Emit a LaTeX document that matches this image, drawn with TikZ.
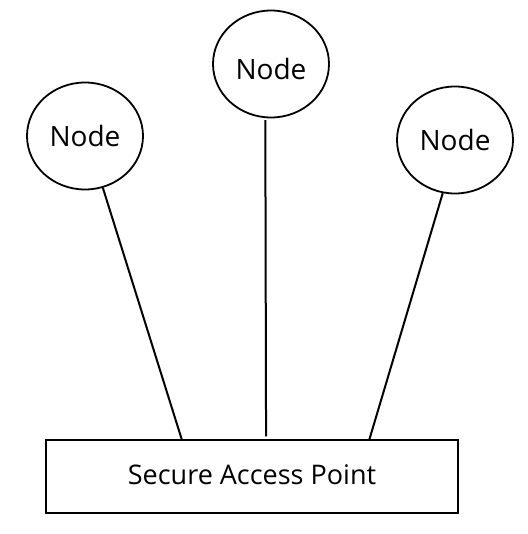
\documentclass[tikz,border=0pt]{standalone}
\usepackage{fontspec}
\setmainfont{Open Sans}
\usetikzlibrary{shapes.geometric,calc}
\begin{document}
\begin{tikzpicture}[x=1pt,y=-1pt,
  peer/.style={draw,ellipse,line width=1.8pt,minimum width=116pt,minimum height=107pt,inner sep=0pt,font=\fontsize{28}{32}\selectfont},
  gate/.style={draw,rectangle,line width=1.5pt,minimum width=412pt,minimum height=73pt,inner sep=0pt,font=\fontsize{27}{32}\selectfont},
  link/.style={line width=2pt}]
\useasboundingbox (0,0) rectangle (527,534);
\node[peer] (n1) at (85,136) {Node};
\node[peer] (n2) at (271,64) {\raisebox{-5pt}[\height][\depth]{Node}};
\node[peer] (n3) at (455,140) {Node};
\node[gate] (sap) at (252,476.5) {\raisebox{2pt}[\height][\depth]{Secure Access Point}};
\draw[link] (n1.-71.6) -- ($(sap.north west)!0.33!(sap.north east)$);
\draw[link] ($(n2.-96)+(0,2)$) -- ($(sap.north west)!0.534!(sap.north east)+(0,-3)$);
\draw[link] (n3.-103) -- ($(sap.north west)!0.784!(sap.north east)$);
\end{tikzpicture}
\end{document}
